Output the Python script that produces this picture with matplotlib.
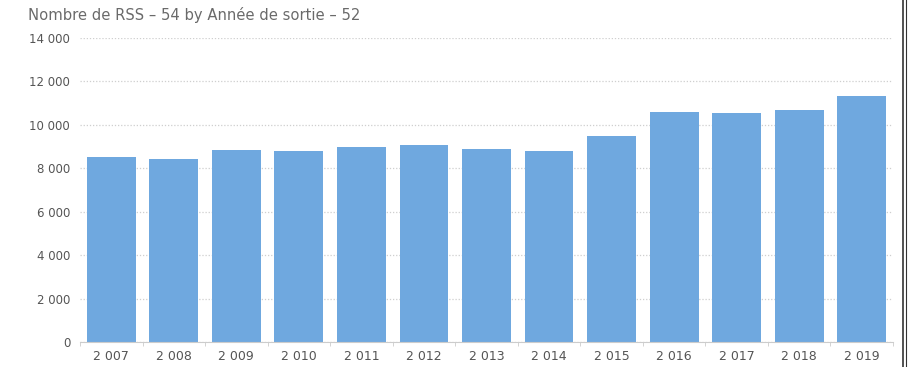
import numpy as np
import matplotlib.pyplot as plt

# data
years = [2007, 2008, 2009, 2010, 2011, 2012, 2013, 2014, 2015, 2016, 2017, 2018, 2019]
rss = [8520, 8430, 8840, 8800, 8980, 9070, 8890, 8800, 9490, 10590, 10550, 10690, 11330]
yticks = [0, 2000, 4000, 6000, 8000, 10000, 12000, 14000]

def fr(v):
    # french thousands separator
    return "{:,}".format(int(v)).replace(",", " ")

fig = plt.figure(figsize=(9.15, 3.67), dpi=100)
ax = fig.add_axes([0.0874, 0.0681, 0.976 - 0.0874, 0.8965 - 0.0681])

x = np.arange(len(years))
ax.bar(x, rss, width=0.78, color="#6FA8DF", zorder=2)

ax.set_xlim(-0.5, len(years) - 0.5)
ax.set_ylim(0, 14000)
ax.set_yticks(yticks)
ax.set_yticklabels([fr(v) for v in yticks])
ax.set_xticks(x)
ax.set_xticklabels([fr(y) for y in years])
ax.set_xticks(np.arange(len(years) + 1) - 0.5, minor=True)

ax.grid(axis="y", linestyle=(0, (1, 1.5)), color="#cfcfcf", linewidth=0.9, zorder=0)
for s in ["top", "right", "left"]:
    ax.spines[s].set_visible(False)
ax.spines["bottom"].set_color("#cccccc")
ax.tick_params(axis="x", which="major", length=0, pad=6, labelsize=9, labelcolor="#555555")
ax.tick_params(axis="x", which="minor", length=3, color="#cccccc")
ax.tick_params(axis="y", length=0, pad=7, labelsize=8.5, labelcolor="#555555")

fig.text(0.031, 0.958, "Nombre de RSS \u2013 54 by Ann\u00e9e de sortie \u2013 52",
         fontsize=10.6, color="#6a6a6a", va="center", ha="left")

# frame line on the right, as in the screenshot
fig.add_artist(plt.Line2D([0.987, 0.987], [0.0, 1.0], color="#333333", linewidth=1.2))
fig.add_artist(plt.Line2D([0.990, 0.990], [0.0, 1.0], color="#333333", linewidth=0.8))

fig.savefig("out.png", dpi=100)
